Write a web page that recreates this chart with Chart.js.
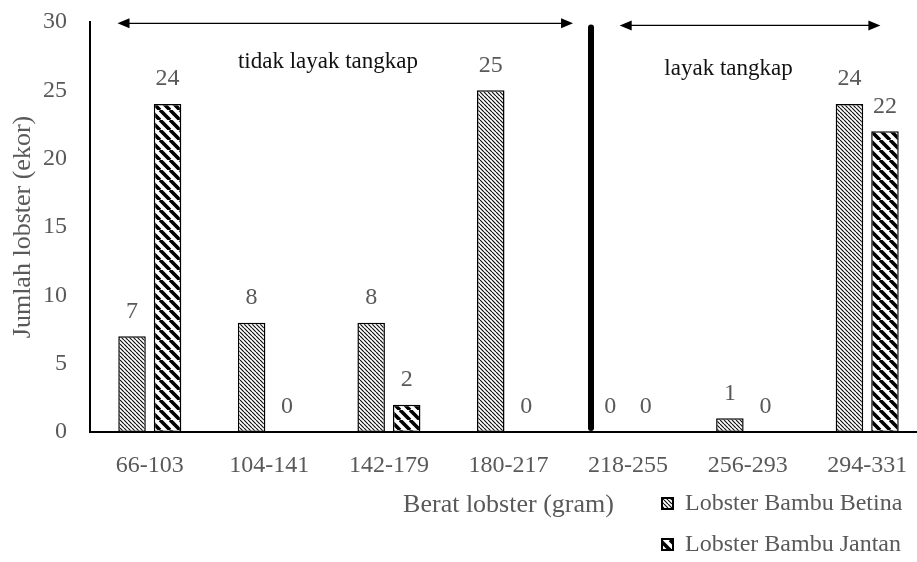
<!DOCTYPE html>
<html>
<head>
<meta charset="utf-8">
<script src="https://cdn.jsdelivr.net/npm/chart.js@4.4.1/dist/chart.umd.min.js"></script>
<style>
  html, body { margin: 0; padding: 0; background: #fff; overflow: hidden; }
  #wrap { width: 927px; height: 562px; }
</style>
</head>
<body>
<div id="wrap"><canvas id="chart" width="927" height="562"></canvas></div>
<script>
// Data
const categories = ['66-103', '104-141', '142-179', '180-217', '218-255', '256-293', '294-331'];
const betinaValues = [7, 8, 8, 25, 0, 1, 24];
const jantanValues = [24, 0, 2, 0, 0, 0, 22];
const seriesNames = ['Lobster Bambu Betina', 'Lobster Bambu Jantan'];
const zoneLabels = ['tidak layak tangkap', 'layak tangkap'];

const SERIF = '"Liberation Serif", "Times New Roman", serif';
const GRAY = '#595959';

// Hatch fills: fine "\" lines for Betina, bold "\" stripes for Jantan
function makeHatch(size, width, color) {
  const c = document.createElement('canvas');
  c.width = size;
  c.height = size;
  const g = c.getContext('2d');
  g.fillStyle = '#fff';
  g.fillRect(0, 0, size, size);
  g.strokeStyle = color;
  g.lineWidth = width;
  g.beginPath();
  for (let k = -1; k <= 1; k++) {
    g.moveTo(k * size, 0);
    g.lineTo(k * size + size, size);
  }
  g.stroke();
  return g.createPattern(c, 'repeat');
}
const hatchFine = makeHatch(4, 1.2, '#111');
const hatchBold = makeHatch(10, 3.6, '#000');

// Annotation placement (category index / y value)
const zones = {
  leftArrow: { from: -0.27, to: 3.54, y: 29.9 },
  rightArrow: { from: 3.93, to: 6.11, y: 29.75 },
  divider: { x: 3.69, top: 29.6, bottom: 0.3 },
  leftText: { x: 1.49, y: 27.1 },
  rightText: { x: 4.84, y: 26.6 }
};

function drawArrow(ctx, x1, x2, y) {
  const head = 12, half = 5;
  ctx.beginPath();
  ctx.moveTo(x1 + head - 2, y);
  ctx.lineTo(x2 - head + 2, y);
  ctx.stroke();
  ctx.beginPath();
  ctx.moveTo(x1, y);
  ctx.lineTo(x1 + head, y - half);
  ctx.lineTo(x1 + head, y + half);
  ctx.closePath();
  ctx.fill();
  ctx.beginPath();
  ctx.moveTo(x2, y);
  ctx.lineTo(x2 - head, y - half);
  ctx.lineTo(x2 - head, y + half);
  ctx.closePath();
  ctx.fill();
}

const valueLabels = {
  id: 'valueLabels',
  afterDatasetsDraw(chart) {
    const ctx = chart.ctx;
    ctx.save();
    ctx.font = '24px ' + SERIF;
    ctx.fillStyle = GRAY;
    ctx.textAlign = 'center';
    ctx.textBaseline = 'middle';
    chart.data.datasets.forEach((ds, i) => {
      chart.getDatasetMeta(i).data.forEach((bar, j) => {
        ctx.fillText(String(ds.data[j]), bar.x, bar.y - 25);
      });
    });
    ctx.restore();
  }
};

const zoneMarks = {
  id: 'zoneMarks',
  afterDraw(chart) {
    const ctx = chart.ctx;
    const x = chart.scales.x;
    const y = chart.scales.y;
    ctx.save();
    ctx.strokeStyle = '#000';
    ctx.fillStyle = '#000';
    ctx.lineWidth = 1.3;
    drawArrow(ctx, x.getPixelForValue(zones.leftArrow.from), x.getPixelForValue(zones.leftArrow.to), y.getPixelForValue(zones.leftArrow.y));
    drawArrow(ctx, x.getPixelForValue(zones.rightArrow.from), x.getPixelForValue(zones.rightArrow.to), y.getPixelForValue(zones.rightArrow.y));

    // thick divider between the two zones
    ctx.lineWidth = 6;
    ctx.lineCap = 'round';
    ctx.beginPath();
    ctx.moveTo(x.getPixelForValue(zones.divider.x), y.getPixelForValue(zones.divider.top));
    ctx.lineTo(x.getPixelForValue(zones.divider.x), y.getPixelForValue(zones.divider.bottom));
    ctx.stroke();

    ctx.font = '23px ' + SERIF;
    ctx.textAlign = 'center';
    ctx.textBaseline = 'middle';
    ctx.fillStyle = '#111';
    ctx.fillText(zoneLabels[0], x.getPixelForValue(zones.leftText.x), y.getPixelForValue(zones.leftText.y));
    ctx.fillText(zoneLabels[1], x.getPixelForValue(zones.rightText.x), y.getPixelForValue(zones.rightText.y));

    // legend, stacked at bottom right
    const fills = [hatchFine, hatchBold];
    ctx.font = '24px ' + SERIF;
    ctx.textAlign = 'left';
    seriesNames.forEach((name, i) => {
      const top = 498 + i * 41;
      ctx.fillStyle = fills[i];
      ctx.fillRect(662, top, 11, 11);
      ctx.lineWidth = 2;
      ctx.strokeStyle = '#000';
      ctx.strokeRect(662, top, 11, 11);
      ctx.fillStyle = GRAY;
      ctx.fillText(name, 685, top + 6);
    });
    ctx.restore();
  }
};

const ctx = document.getElementById('chart').getContext('2d');
new Chart(ctx, {
  type: 'bar',
  data: {
    labels: categories,
    datasets: [
      {
        label: seriesNames[0],
        data: betinaValues,
        backgroundColor: hatchFine,
        borderColor: '#000',
        borderWidth: 1.5,
        borderSkipped: false,
        categoryPercentage: 0.594,
        barPercentage: 0.775
      },
      {
        label: seriesNames[1],
        data: jantanValues,
        backgroundColor: hatchBold,
        borderColor: '#000',
        borderWidth: 1.5,
        borderSkipped: false,
        categoryPercentage: 0.594,
        barPercentage: 0.775
      }
    ]
  },
  options: {
    responsive: false,
    animation: false,
    layout: { padding: { top: 22, right: 0, bottom: 0, left: 0 } },
    plugins: {
      legend: { display: false },
      tooltip: { enabled: false }
    },
    scales: {
      x: {
        grid: { display: false, drawTicks: false },
        border: { color: '#000', width: 2 },
        ticks: { color: GRAY, font: { family: SERIF, size: 24 }, padding: 19 },
        title: {
          display: true,
          text: 'Berat lobster (gram)',
          color: GRAY,
          font: { family: SERIF, size: 26 },
          padding: { top: 0, bottom: 41 }
        },
        afterFit: (scale) => { scale.height = 130; }
      },
      y: {
        min: 0,
        max: 30,
        grid: { display: false, drawTicks: false },
        border: { color: '#000', width: 2 },
        ticks: { stepSize: 5, color: GRAY, font: { family: SERIF, size: 24 }, padding: 23 },
        title: {
          display: true,
          text: 'Jumlah lobster (ekor)',
          color: GRAY,
          font: { family: SERIF, size: 26 },
          padding: { top: 8, bottom: 0 }
        },
        afterFit: (scale) => {
          scale.width = 90;
          scale.paddingTop = 0;
          scale.paddingBottom = 0;
        }
      }
    }
  },
  plugins: [valueLabels, zoneMarks]
});
</script>
</body>
</html>
